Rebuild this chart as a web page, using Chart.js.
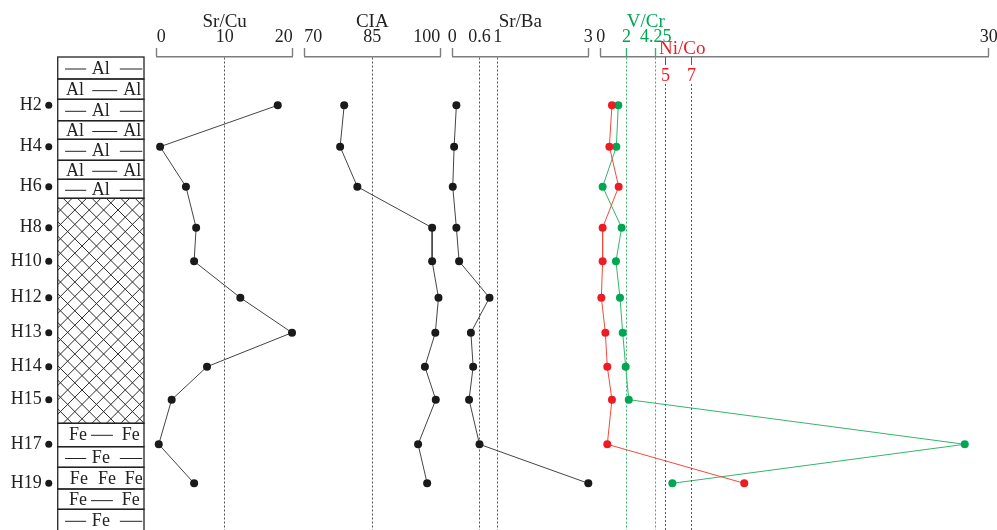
<!DOCTYPE html>
<html>
<head>
<meta charset="utf-8">
<script src="https://cdn.jsdelivr.net/npm/chart.js@4.4.1/dist/chart.umd.min.js"></script>
<style>
  html, body { margin: 0; padding: 0; background: #fff; }
  #wrap { position: relative; width: 997px; height: 530px; overflow: hidden; }
  #wrap canvas { position: absolute; top: 0; }
</style>
</head>
<body>
<div id="wrap"></div>
<script>
// échantillons et profondeur (unités du profil, 0 = sommet de la colonne)
const sampleNames = ['H2', 'H4', 'H6', 'H8', 'H10', 'H12', 'H13', 'H14', 'H15', 'H17', 'H19'];
const sampleDepth = [4.83, 8.97, 12.97, 17.07, 20.43, 24.07, 27.57, 30.97, 34.27, 38.73, 42.63];

// valeurs
const srCu = [17.8, 0.5, 4.3, 5.8, 5.5, 12.3, 19.9, 7.4, 2.2, 0.3, 5.5];
const cia = [78.8, 77.9, 81.7, 98.2, 98.2, 99.6, 98.9, 96.6, 99.0, 95.1, 97.1];
const srBa = [0.09, 0.04, 0.01, 0.09, 0.15, 0.82, 0.41, 0.46, 0.37, 0.60, 3.0];
const vCr = [1.36, 1.21, 0.15, 1.62, 1.18, 1.49, 1.70, 1.93, 2.17, 28.15, 5.54];
const niCo = [0.87, 0.67, 1.39, 0.15, 0.15, 0.05, 0.36, 0.51, 0.87, 0.51, 11.1];

// graduations
const srCuTicks = [0, 10, 20];
const ciaTicks = [70, 85, 100];
const srBaTicks = [0, 0.6, 1, 3];
const vCrTicks = [0, 2, 4.25, 30];
const niCoTicks = [5, 7];

// colonne lithologique
const layerTop = [0, 2.2, 4.23, 6.37, 8.23, 10.33, 12.23, 14.13, 36.63, 38.97, 41.03, 43.2, 45.23];
const layerBottom = [2.2, 4.23, 6.37, 8.23, 10.33, 12.23, 14.13, 36.63, 38.97, 41.03, 43.2, 45.23, 49];
const layerKind = ['-Al-', 'Al-Al', '-Al-', 'Al-Al', '-Al-', 'Al-Al', '-Al-', 'hatch', 'Fe-Fe', '-Fe-', 'FeFeFe', 'Fe-Fe', '-Fe-'];

const DEPTH_MAX = 47.3;
const GREEN = '#00a651', GREEN_LINE = '#34b56a';
const RED = '#ed1c24', RED_LINE = '#f04b3c';
const INK = '#1a1a1a';
const AXIS_GREY = '#7d7d7d';
const SERIF = "'Liberation Serif', 'Times New Roman', serif";

Chart.defaults.font.family = SERIF;
Chart.defaults.color = '#222';

const wrap = document.getElementById('wrap');
function addCanvas(left, width) {
  const c = document.createElement('canvas');
  c.width = width; c.height = 530;
  c.style.left = left + 'px';
  wrap.appendChild(c);
  return c;
}

function series(values, line, dot) {
  return {
    data: values.map((v, i) => ({ x: v, y: sampleDepth[i] })),
    showLine: true,
    borderColor: line,
    borderWidth: 1,
    pointRadius: 4,
    pointBackgroundColor: dot,
    pointBorderWidth: 0,
    clip: false
  };
}

// --- colonne de gauche ---
const columnPlugin = {
  id: 'column',
  beforeDatasetsDraw(chart) {
    const { ctx, scales: { x, y } } = chart;
    const x0 = x.getPixelForValue(0), x1 = x.getPixelForValue(1), w = x1 - x0;
    const at = f => x0 + f * w;
    ctx.save();
    ctx.strokeStyle = '#222';
    ctx.fillStyle = '#222';
    ctx.font = '18px ' + SERIF;
    ctx.textAlign = 'center';
    ctx.textBaseline = 'middle';
    const dash = (a, b, ym) => { ctx.beginPath(); ctx.moveTo(at(a), ym); ctx.lineTo(at(b), ym); ctx.stroke(); };
    layerKind.forEach((kind, i) => {
      const yt = y.getPixelForValue(layerTop[i]);
      const yb = y.getPixelForValue(layerBottom[i]);
      const ym = Math.min((yt + yb) / 2 + 1.5, yt + 12);
      ctx.lineWidth = 1.3;
      ctx.strokeRect(x0, yt, w, yb - yt);
      ctx.lineWidth = 1;
      if (kind === 'hatch') {
        ctx.save();
        ctx.beginPath(); ctx.rect(x0, yt, w, yb - yt); ctx.clip();
        ctx.strokeStyle = '#2a2a2a';
        ctx.lineWidth = 1;
        const h = yb - yt, step = 14.4;
        for (let s = -h; s < w + h; s += step) {
          ctx.beginPath(); ctx.moveTo(x0 + s, yt); ctx.lineTo(x0 + s + h, yb); ctx.stroke();
          ctx.beginPath(); ctx.moveTo(x0 + s, yb); ctx.lineTo(x0 + s + h, yt); ctx.stroke();
        }
        ctx.restore();
      } else if (kind === '-Al-' || kind === '-Fe-') {
        const el = kind.slice(1, 3);
        dash(0.085, 0.33, ym); ctx.fillText(el, at(0.5), ym); dash(0.72, 0.98, ym);
      } else if (kind === 'Al-Al') {
        ctx.fillText('Al', at(0.2), ym); dash(0.4, 0.69, ym); ctx.fillText('Al', at(0.865), ym);
      } else if (kind === 'Fe-Fe') {
        ctx.fillText('Fe', at(0.235), ym); dash(0.385, 0.64, ym); ctx.fillText('Fe', at(0.845), ym);
      } else if (kind === 'FeFeFe') {
        ctx.fillText('Fe', at(0.245), ym); ctx.fillText('Fe', at(0.57), ym); ctx.fillText('Fe', at(0.88), ym);
      }
    });
    ctx.restore();
  }
};

new Chart(addCanvas(0, 150), {
  type: 'scatter',
  data: {
    datasets: [{
      data: sampleDepth.map(d => ({ x: -0.104, y: d })),
      pointRadius: 3.5,
      pointBackgroundColor: INK,
      pointBorderWidth: 0,
      clip: false
    }]
  },
  options: {
    responsive: false,
    animation: false,
    layout: { autoPadding: false, padding: { top: 57, right: 6, left: 0, bottom: 0 } },
    plugins: { legend: { display: false }, tooltip: { enabled: false } },
    scales: {
      x: { display: false, min: -0.15, max: 1 },
      y: {
        min: 0, max: DEPTH_MAX, reverse: true,
        afterBuildTicks: s => { s.ticks = sampleDepth.map(v => ({ value: v })); },
        afterFit: s => { s.width = 44.8; s.paddingTop = 0; s.paddingBottom = 0; },
        ticks: { padding: 3, font: { size: 18 }, color: '#222', autoSkip: false,
                 callback: (v, i) => sampleNames[i] },
        grid: { display: false, drawTicks: false, tickLength: 0 },
        border: { display: false }
      }
    }
  },
  plugins: [columnPlugin]
});

// --- panneaux géochimiques ---
function panel(cfg) {
  const padL = 16, padR = 10;
  const cLeft = Math.floor(cfg.left - padL);
  const width = Math.ceil(cfg.right + padR - cLeft);
  const inner = v => v !== cfg.ticks[0] && v !== cfg.ticks[cfg.ticks.length - 1];
  return new Chart(addCanvas(cLeft, width), {
    type: 'scatter',
    data: { datasets: cfg.datasets },
    options: {
      responsive: false,
      animation: false,
      layout: { autoPadding: false, padding: { left: cfg.left - cLeft, right: width - (cfg.right - cLeft), top: 0, bottom: 0 } },
      plugins: { legend: { display: false }, tooltip: { enabled: false } },
      scales: {
        x: {
          type: 'linear', position: 'top', min: cfg.min, max: cfg.max,
          afterBuildTicks: s => { s.ticks = cfg.ticks.map(v => ({ value: v })); },
          afterFit: s => { s.height = 57; },
          ticks: {
            padding: 0, align: cfg.align, maxRotation: 0, autoSkip: false,
            font: { size: 18 },
            color: c => (cfg.tickLabelColor && inner(c.tick.value)) ? cfg.tickLabelColor : '#222',
            callback: v => String(v)
          },
          grid: {
            drawOnChartArea: true,
            lineWidth: 1,
            color: c => inner(c.tick.value) ? cfg.refColor : 'rgba(0,0,0,0)',
            tickLength: 9,
            tickWidth: 1.4,
            tickColor: c => inner(c.tick.value) ? (cfg.innerTickColor || 'rgba(0,0,0,0)') : AXIS_GREY
          },
          border: { display: true, color: AXIS_GREY, width: 1.5, dash: [2, 2] },
          title: {
            display: !!cfg.title, text: cfg.title || '',
            font: { size: 19 }, color: '#222',
            padding: { top: 11, bottom: 0 }
          }
        },
        y: { display: false, min: 0, max: DEPTH_MAX, reverse: true }
      }
    },
    plugins: cfg.plugins || []
  });
}

panel({ left: 156.7, right: 292.7, min: 0, max: 20, ticks: srCuTicks, align: 'inner', title: 'Sr/Cu',
        refColor: '#555', datasets: [series(srCu, '#444', INK)] });
panel({ left: 304.3, right: 440.3, min: 70, max: 100, ticks: ciaTicks, align: 'inner', title: 'CIA',
        refColor: '#555', datasets: [series(cia, '#444', INK)] });
panel({ left: 452.3, right: 588.3, min: 0, max: 3, ticks: srBaTicks, align: 'center', title: 'Sr/Ba',
        refColor: '#555', datasets: [series(srBa, '#444', INK)] });

const vCrTitles = {
  id: 'vCrTitles',
  afterDraw(chart) {
    const { ctx, scales: { x }, chartArea } = chart;
    ctx.save();
    ctx.textAlign = 'center';
    ctx.textBaseline = 'middle';
    ctx.font = '19px ' + SERIF;
    ctx.fillStyle = GREEN;
    ctx.fillText('V/Cr', x.getPixelForValue(3.48), 22);
    ctx.fillStyle = RED;
    ctx.fillText('Ni/Co', x.getPixelForValue(6.3), 49);
    ctx.strokeStyle = RED;
    ctx.lineWidth = 1;
    ctx.font = '18px ' + SERIF;
    niCoTicks.forEach(v => {
      const px = Math.round(x.getPixelForValue(v)) + 0.5;
      ctx.setLineDash([]);
      ctx.beginPath(); ctx.moveTo(px, chartArea.top); ctx.lineTo(px, chartArea.top + 8); ctx.stroke();
      ctx.fillText(String(v), px, chartArea.top + 19);
      ctx.setLineDash([2, 2]);
      ctx.beginPath(); ctx.moveTo(px, chartArea.top + 27); ctx.lineTo(px, chartArea.bottom); ctx.stroke();
    });
    ctx.restore();
  }
};

panel({ left: 600.7, right: 988.7, min: 0, max: 30, ticks: vCrTicks, align: 'center', title: null,
        refColor: GREEN_LINE, tickLabelColor: GREEN, innerTickColor: GREEN_LINE,
        datasets: [series(niCo, RED_LINE, RED), series(vCr, GREEN_LINE, GREEN)],
        plugins: [vCrTitles] });
</script>
</body>
</html>
